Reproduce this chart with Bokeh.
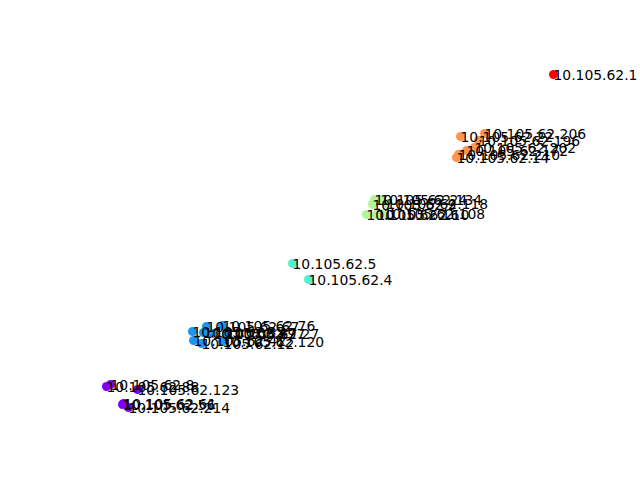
from bokeh.plotting import figure
from bokeh.models import ColumnDataSource, Range1d
from bokeh.core.properties import value
from bokeh.embed import file_html
from bokeh.resources import INLINE

# Projected host positions (arbitrary units) with cluster ids and IP labels
xs = [553, 460, 484, 478, 474, 458, 456, 466,
      374, 380, 372, 386, 366, 376, 383,
      292, 308,
      206, 222, 192, 203, 212, 226, 193, 201, 222,
      106, 110, 137, 123, 122, 128]
ys = [74, 136, 133, 140, 147, 154, 157, 150,
      199, 199, 204, 203, 214, 214, 213,
      263, 279,
      326, 325, 331, 332, 333, 333, 340, 343, 341,
      386, 384, 389, 403, 404, 407]
clusters = [5, 4, 4, 4, 4, 4, 4, 4,
            3, 3, 3, 3, 3, 3, 3,
            2, 2,
            1, 1, 1, 1, 1, 1, 1, 1, 1,
            0, 0, 0, 0, 0, 0]
labels = ["10.105.62.1", "10.105.62.22", "10.105.62.206", "10.105.62.196", "10.105.62.202",
          "10.105.62.210", "10.105.62.14", "10.105.62.172",
          "10.105.62.24", "10.105.62.134", "10.105.62.9", "10.105.62.118", "10.105.62.16",
          "10.105.62.10", "10.105.62.108",
          "10.105.62.5", "10.105.62.4",
          "10.105.62.67", "10.105.62.76", "10.105.62.35", "10.105.62.47", "10.105.62.97",
          "10.105.62.27", "10.105.62.42", "10.105.62.12", "10.105.62.120",
          "10.105.62.88", "10.105.62.8", "10.105.62.123", "10.105.62.61", "10.105.62.56",
          "10.105.62.214"]
palette = ["#8000ff", "#1a96f2", "#4df2ce", "#b3f296", "#ff964f", "#ff0000"]

colors = [palette[c] for c in clusters]
src = ColumnDataSource(dict(x=xs, y=ys, c=colors, t=labels))

# y values grow downward, so the y range is flipped
p = figure(width=640, height=480, output_backend="svg", toolbar_location=None,
           x_range=Range1d(0, 640), y_range=Range1d(480, 0),
           min_border_left=0, min_border_right=0, min_border_top=0, min_border_bottom=0)
p.axis.visible = False
p.grid.visible = False
p.outline_line_color = None
p.background_fill_color = "white"
p.border_fill_color = "white"

p.scatter("x", "y", source=src, size=9, fill_color="c", line_color="c", line_width=0)
p.text("x", "y", text="t", source=src, text_font=value("DejaVu Sans"), text_font_size="13.9px",
       text_align="left", text_baseline="alphabetic", text_color="black")

open("out.html", "w").write(file_html(p, INLINE))
